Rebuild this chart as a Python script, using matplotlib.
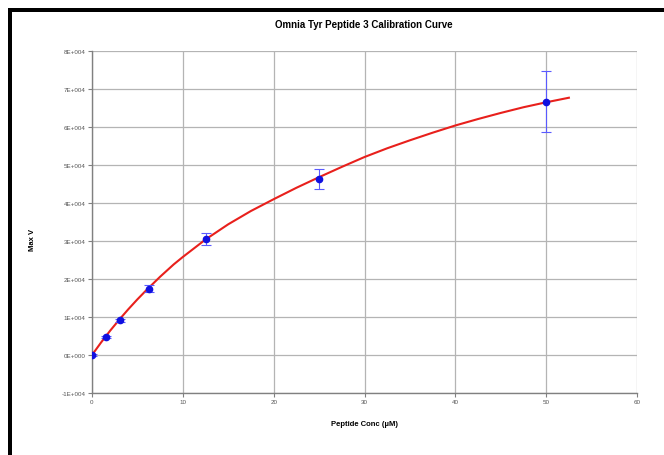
import matplotlib
matplotlib.use("Agg")
import matplotlib.pyplot as plt
from matplotlib.patches import Rectangle

plt.rcParams['font.family'] = ['Liberation Sans', 'DejaVu Sans']

# Data
conc = [0, 1.5625, 3.125, 6.25, 12.5, 25, 50]
max_v = [0, 4650, 9200, 17500, 30500, 46400, 66700]
err = [300, 300, 400, 900, 1500, 2650, 8000]

# Fitted curve values
curve_x = [0, 1, 2, 3, 4, 5, 6, 7.5, 9, 10, 12.5, 15, 17.5, 20, 22.5, 25, 27.5,
           30, 32.5, 35, 37.5, 40, 42.5, 45, 47.5, 50, 52.5]
curve_y = [0, 3300, 6400, 9300, 12050, 14650, 17100, 20600, 23850, 25800, 30400,
           34400, 37900, 41000, 44000, 46800, 49500, 52100, 54400, 56500, 58500,
           60400, 62100, 63700, 65200, 66500, 67700]

yticks = [-10000, 0, 10000, 20000, 30000, 40000, 50000, 60000, 70000, 80000]
ytick_labels = ['-1E+004', '0E+000', '1E+004', '2E+004', '3E+004', '4E+004',
                '5E+004', '6E+004', '7E+004', '8E+004']
xticks = [0, 10, 20, 30, 40, 50, 60]

fig = plt.figure(figsize=(6.64, 4.56), dpi=100)
ax = fig.add_axes([92/664, 1-394/456, (637-92)/664, (394-52)/456])

ax.plot(curve_x, curve_y, color='#e8201c', lw=1.5, zorder=3,
        solid_joinstyle='round')
ax.errorbar(conc, max_v, yerr=err, fmt='o', color='#1010e0', ms=4.5,
            ecolor='#5a5aff', elinewidth=0.8, capsize=3.5, capthick=0.8, zorder=4)

ax.set_xlim(0, 60)
ax.set_ylim(-10000, 80000)
ax.set_xticks(xticks)
ax.set_yticks(yticks)
ax.set_yticklabels(ytick_labels)
ax.grid(True, color='#b4b4b4', lw=0.9)
ax.set_axisbelow(True)
for s in ['top', 'right']:
    ax.spines[s].set_visible(False)
for s in ['left', 'bottom']:
    ax.spines[s].set_color('#808080')
    ax.spines[s].set_linewidth(1.0)
ax.tick_params(axis='both', direction='out', length=3, width=0.8, color='#808080',
               labelsize=4.5, labelcolor='#555555', pad=1.5)

fig.text(364/664, 1-25/456, 'Omnia Tyr Peptide 3 Calibration Curve', ha='center',
         va='center', fontsize=7, fontweight='bold')
fig.text(364/664, 1-425/456, 'Peptide Conc (µM)', ha='center', va='center',
         fontsize=5.5, fontweight='bold')
fig.text(32/664, 1-240/456, 'Max V', ha='center', va='center', rotation=90,
         fontsize=5.5, fontweight='bold')

# Black frame lines (top and left)
fig.add_artist(Rectangle((8/664, 1-13/456), 1, 4/456, transform=fig.transFigure,
                         color='black', lw=0))
fig.add_artist(Rectangle((8/664, 0), 4/664, 1-9/456, transform=fig.transFigure,
                         color='black', lw=0))

fig.savefig('out.png', dpi=100)
